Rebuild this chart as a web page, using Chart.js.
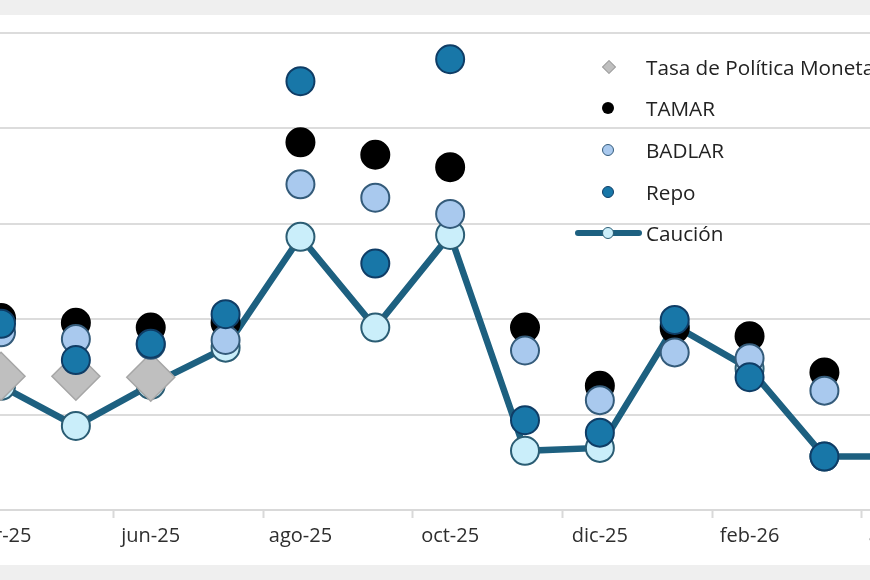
<!DOCTYPE html>
<html lang="es">
<head>
<meta charset="UTF-8">
<title>Tasas de interés</title>
<style>
body {
  margin: 0;
  background: #efefef;
  font-family: "Open Sans", Arial, sans-serif;
}
/* white card, chart is wider than the window and gets cropped */
.panel {
  position: absolute;
  left: 0;
  top: 15px;
  width: 870px;
  height: 550px;
  background: #ffffff;
  overflow: hidden;
}
#chart {
  position: absolute;
  left: -100px;
  top: -8px;
}
.legend {
  position: absolute;
  left: 575px;
  top: 31px;
  white-space: nowrap;
}
.legend .item {
  display: flex;
  align-items: center;
  height: 41.6px;
}
.legend .mk {
  position: relative;
  width: 67px;
  height: 20px;
  margin-right: 4px;
}
.legend .lbl {
  font-size: 20.7px;
  color: #222222;
}
.mk i {
  position: absolute;
  left: 27px;
  top: 4px;
  width: 12px;
  height: 12px;
  border-radius: 50%;
  box-sizing: border-box;
}
.mk i.diamond {
  left: 28.5px;
  top: 5px;
  width: 10px;
  height: 10px;
  border-radius: 0;
  transform: rotate(45deg);
  background: #bfbfbf;
  border: 1px solid #a0a0a0;
}
.mk .line {
  position: absolute;
  left: 0;
  top: 7px;
  width: 67px;
  height: 6px;
  background: #1d6080;
  border-radius: 3px;
}
</style>
</head>
<body>
<div class="panel">
  <canvas id="chart" width="1100" height="548"></canvas>
  <div class="legend">
    <div class="item"><span class="mk"><i class="diamond"></i></span><span class="lbl">Tasa de Política Monetaria</span></div>
    <div class="item"><span class="mk"><i style="background:#000;"></i></span><span class="lbl">TAMAR</span></div>
    <div class="item"><span class="mk"><i style="background:#a9c9ee;border:1.5px solid #345b7a;"></i></span><span class="lbl">BADLAR</span></div>
    <div class="item"><span class="mk"><i style="background:#1877a8;border:1.5px solid #0f3d66;"></i></span><span class="lbl">Repo</span></div>
    <div class="item"><span class="mk"><span class="line"></span><i style="background:#caeefa;border:1.5px solid #2b5d74;"></i></span><span class="lbl">Caución</span></div>
  </div>
</div>

<script src="https://cdn.jsdelivr.net/npm/chart.js"></script>
<script>
const months = ['abr-25', 'may-25', 'jun-25', 'jul-25', 'ago-25', 'sep-25', 'oct-25', 'nov-25', 'dic-25', 'ene-26', 'feb-26', 'mar-26', 'abr-26'];
const tpm     = [34.0, 34.0, 33.9, null, null, null, null, null, null, null, null, null, null];
const tamar   = [40.1, 39.6, 39.1, 39.6, 58.5, 57.2, 55.9, 39.1, 33.0, 39.0, 38.2, 34.4, null];
const badlar  = [38.6, 37.9, 37.3, 37.8, 54.1, 52.7, 51.0, 36.7, 31.5, 36.5, 35.9, 32.5, null];
const repo    = [39.5, 35.7, 37.4, 40.5, 64.9, 45.8, 67.2, 29.4, 28.1, 39.9, 33.9, 25.6, null];
const caucion = [33.0, 28.8, 33.1, 37.0, 48.6, 39.1, 48.8, 26.2, 26.5, 39.3, 34.8, 25.6, 25.6];
const yMin = 20;
const yMax = 70;

function dots(label, data, fill, border, order) {
  return {
    label: label,
    data: data,
    showLine: false,
    pointRadius: 14,
    pointBorderWidth: 2,
    pointBackgroundColor: fill,
    pointBorderColor: border,
    order: order
  };
}

const ctx = document.getElementById('chart').getContext('2d');
new Chart(ctx, {
  type: 'line',
  data: {
    labels: months,
    datasets: [
      dots('Repo', repo, '#1877a8', '#0f3d66', 1),
      dots('BADLAR', badlar, '#a9c9ee', '#345b7a', 2),
      dots('TAMAR', tamar, '#000000', '#000000', 3),
      {
        label: 'Tasa de Política Monetaria',
        data: tpm,
        showLine: false,
        pointStyle: 'rectRot',
        pointRadius: 24,
        pointBorderWidth: 1.5,
        pointBackgroundColor: '#bfbfbf',
        pointBorderColor: '#a6a6a6',
        order: 4
      },
      {
        label: 'Caución',
        data: caucion,
        borderColor: '#1d6080',
        borderWidth: 6.5,
        tension: 0,
        pointRadius: 14,
        pointBorderWidth: 2,
        pointBackgroundColor: '#caeefa',
        pointBorderColor: '#2b5d74',
        order: 5
      }
    ]
  },
  options: {
    responsive: false,
    animation: false,
    devicePixelRatio: 1,
    layout: {
      padding: { left: 63.6, right: 63.3, top: 9, bottom: 0 }
    },
    plugins: {
      legend: { display: false },
      tooltip: { enabled: false }
    },
    scales: {
      x: {
        offset: true,
        afterFit: (scale) => { scale.height = 45; },
        grid: {
          offset: true,
          drawOnChartArea: false,
          drawTicks: true,
          tickLength: 8,
          tickWidth: 2,
          tickColor: (c) => (c.index % 2 === 0 && c.index > 0) ? '#d9d9d9' : 'rgba(0,0,0,0)'
        },
        border: { color: '#d9d9d9', width: 2 },
        ticks: {
          autoSkip: false,
          maxRotation: 0,
          padding: 6,
          color: '#2e2e2e',
          font: { family: '"Open Sans", Arial, sans-serif', size: 20 },
          callback: function (value, index) {
            return index % 2 === 0 ? this.getLabelForValue(value) : '';
          }
        }
      },
      y: {
        min: yMin,
        max: yMax,
        afterFit: (scale) => { scale.width = 0; },
        border: { display: false },
        grid: { color: '#dcdcdc', lineWidth: 2, drawTicks: false },
        ticks: { display: false, stepSize: 10 }
      }
    }
  }
});
</script>
</body>
</html>
